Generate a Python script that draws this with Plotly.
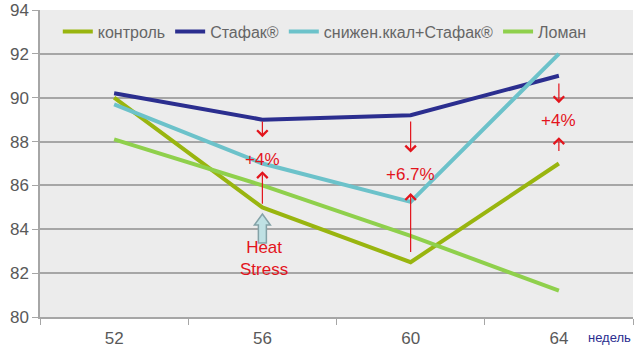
import plotly.graph_objects as go

WEEKS = ["52", "56", "60", "64"]
KONTROL = [90.0, 85.0, 82.5, 87.0]
STAFAK = [90.2, 89.0, 89.2, 91.0]
SNIZHEN = [89.7, 87.0, 85.25, 92.0]
LOMAN = [88.1, 86.0, 83.7, 81.2]

SERIES = [
    ("контроль", KONTROL, "#99b50f"),
    ("Стафак®", STAFAK, "#2b2e8f"),
    ("снижен.ккал+Стафак®", SNIZHEN, "#6cc2ca"),
    ("Ломан", LOMAN, "#8fd04c"),
]

# percentage annotations: week, label, label y, down-arrow (tail, head), up-arrow (tail, head)
DIFFS = [
    ("56", "+4%", 87.2, (88.98, 88.2), (85.1, 86.65)),
    ("60", "+6.7%", 86.5, (88.98, 87.5), (82.9, 85.65)),
    ("64", "+4%", 88.98, (90.72, 89.75), (87.5, 88.2)),
]
HEAT_WEEK = "56"
HEAT_Y = 84.7
HEAT_TEXT_Y = 82.65

RED = "#e3141c"
GRAY = "#595959"

fig = go.Figure()
for name, vals, col in SERIES:
    fig.add_trace(go.Scatter(x=WEEKS, y=vals, name=name, mode="lines",
                             line=dict(color=col, width=4)))

ann = []
for wk, txt, ty, dn, up in DIFFS:
    xi = WEEKS.index(wk)
    ann.append(dict(x=xi, y=ty, text=txt, showarrow=False,
                    font=dict(color=RED, size=17)))
    for tail, head in (dn, up):
        ann.append(dict(x=xi, y=head, ax=0, ay=tail, axref="pixel", ayref="y",
                        text="", showarrow=True, arrowhead=4, arrowsize=1.7,
                        arrowwidth=1.2, arrowcolor=RED, standoff=0, startstandoff=0))

ann.append(dict(x=WEEKS.index(HEAT_WEEK), y=HEAT_TEXT_Y, text="Heat<br>Stress",
                showarrow=False, font=dict(color=RED, size=17), xshift=2))
ann.append(dict(xref="paper", yref="paper", x=1.0, y=0, yshift=-20, xanchor="right",
                yanchor="middle", text="недель", showarrow=False,
                font=dict(color="#2b2e8f", size=13)))

fig.add_shape(type="path", xref="x", yref="y", xsizemode="pixel", ysizemode="pixel",
              xanchor=WEEKS.index(HEAT_WEEK), yanchor=HEAT_Y,
              path="M0,0 L8,-11 L4,-11 L4,-29 L-4,-29 L-4,-11 L-8,-11 Z",
              fillcolor="#bfe1e4", line=dict(color="#84a2a7", width=1.5))

fig.update_layout(
    width=640, height=351,
    margin=dict(l=40, r=7, t=10, b=34),
    paper_bgcolor="white", plot_bgcolor="#ececec",
    font=dict(family="Liberation Sans, Arial, sans-serif", color=GRAY, size=16),
    showlegend=True,
    legend=dict(orientation="h", x=0.03, y=0.985, xanchor="left", yanchor="top",
                bgcolor="rgba(0,0,0,0)", font=dict(size=16, color="#666666"),
                itemwidth=30, traceorder="normal"),
    annotations=ann,
    xaxis=dict(type="category", range=[-0.5, 3.5], showgrid=False, automargin=False,
               tickson="boundaries", ticks="outside", ticklen=6, tickcolor="#a6a6a6",
               showline=True, linecolor="#a6a6a6", linewidth=1.5,
               ticklabelstandoff=5,
               tickfont=dict(size=17, color=GRAY)),
    yaxis=dict(range=[80, 94], dtick=2, showgrid=True, gridcolor="#a6a6a6", gridwidth=1.5,
               automargin=False,
               ticks="outside", ticklen=6, tickcolor="#a6a6a6",
               showline=True, linecolor="#a6a6a6", linewidth=1.5, zeroline=False,
               tickfont=dict(size=17, color=GRAY)),
)

fig.write_html("out.html")
